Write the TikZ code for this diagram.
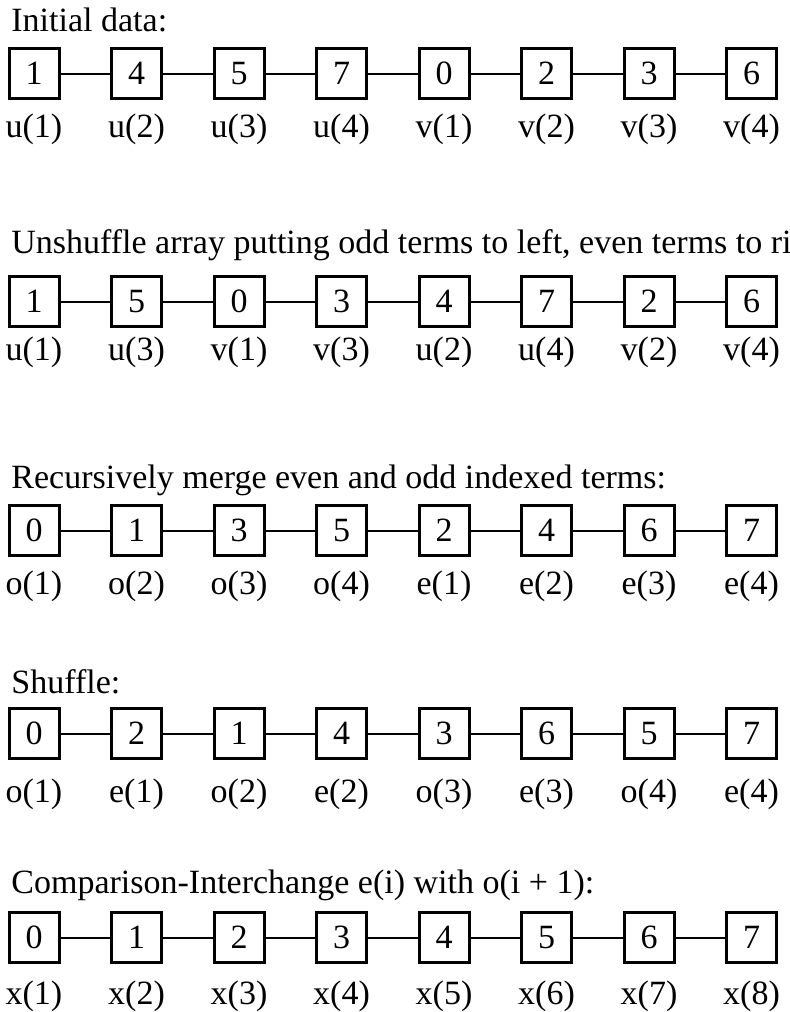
\documentclass[tikz,border=0pt]{standalone}
\usepackage{fontspec}
\setmainfont{Liberation Serif}
\usetikzlibrary{positioning}
\tikzstyle{cell} = [rectangle, draw=black, line width=1.5pt, minimum size=25pt, inner sep=0pt, font=\fontsize{17}{20}\selectfont]
\tikzstyle{idx} = [inner sep=0pt, text height=12pt, text depth=4pt, font=\fontsize{17}{20}\selectfont]
\tikzstyle{heading} = [anchor=base west, inner sep=0pt, font=\fontsize{17}{20}\selectfont]
\tikzstyle{wire} = [line width=1pt]

\begin{document}
\begin{tikzpicture}[x=0.5pt, y=-0.5pt, node distance=24.75pt]
    \useasboundingbox (0,0) rectangle (790,1012);

    % initial data
    \node (t1) [heading] at (11,32) {Initial data:};
    \node (a1) [cell] at (34,73.5) {1};
    \node (a2) [cell, right=of a1] {4};
    \node (a3) [cell, right=of a2] {5};
    \node (a4) [cell, right=of a3] {7};
    \node (a5) [cell, right=of a4] {0};
    \node (a6) [cell, right=of a5] {2};
    \node (a7) [cell, right=of a6] {3};
    \node (a8) [cell, right=of a7] {6};
    \node (la1) [idx, below=6.5pt of a1] {u(1)};
    \node (la2) [idx, below=6.5pt of a2] {u(2)};
    \node (la3) [idx, below=6.5pt of a3] {u(3)};
    \node (la4) [idx, below=6.5pt of a4] {u(4)};
    \node (la5) [idx, below=6.5pt of a5] {v(1)};
    \node (la6) [idx, below=6.5pt of a6] {v(2)};
    \node (la7) [idx, below=6.5pt of a7] {v(3)};
    \node (la8) [idx, below=6.5pt of a8] {v(4)};

    % unshuffle
    \node (t2) [heading] at (11,253) {Unshuffle array putting odd terms to left, even terms to ri};
    \node (b1) [cell] at (34,301.5) {1};
    \node (b2) [cell, right=of b1] {5};
    \node (b3) [cell, right=of b2] {0};
    \node (b4) [cell, right=of b3] {3};
    \node (b5) [cell, right=of b4] {4};
    \node (b6) [cell, right=of b5] {7};
    \node (b7) [cell, right=of b6] {2};
    \node (b8) [cell, right=of b7] {6};
    \node (lb1) [idx, below=4pt of b1] {u(1)};
    \node (lb2) [idx, below=4pt of b2] {u(3)};
    \node (lb3) [idx, below=4pt of b3] {v(1)};
    \node (lb4) [idx, below=4pt of b4] {v(3)};
    \node (lb5) [idx, below=4pt of b5] {u(2)};
    \node (lb6) [idx, below=4pt of b6] {u(4)};
    \node (lb7) [idx, below=4pt of b7] {v(2)};
    \node (lb8) [idx, below=4pt of b8] {v(4)};

    % recursive merge
    \node (t3) [heading] at (11,488) {Recursively merge even and odd indexed terms:};
    \node (c1) [cell] at (34,530.5) {0};
    \node (c2) [cell, right=of c1] {1};
    \node (c3) [cell, right=of c2] {3};
    \node (c4) [cell, right=of c3] {5};
    \node (c5) [cell, right=of c4] {2};
    \node (c6) [cell, right=of c5] {4};
    \node (c7) [cell, right=of c6] {6};
    \node (c8) [cell, right=of c7] {7};
    \node (lc1) [idx, below=6.5pt of c1] {o(1)};
    \node (lc2) [idx, below=6.5pt of c2] {o(2)};
    \node (lc3) [idx, below=6.5pt of c3] {o(3)};
    \node (lc4) [idx, below=6.5pt of c4] {o(4)};
    \node (lc5) [idx, below=6.5pt of c5] {e(1)};
    \node (lc6) [idx, below=6.5pt of c6] {e(2)};
    \node (lc7) [idx, below=6.5pt of c7] {e(3)};
    \node (lc8) [idx, below=6.5pt of c8] {e(4)};

    % shuffle
    \node (t4) [heading] at (11,693) {Shuffle:};
    \node (d1) [cell] at (34,733.5) {0};
    \node (d2) [cell, right=of d1] {2};
    \node (d3) [cell, right=of d2] {1};
    \node (d4) [cell, right=of d3] {4};
    \node (d5) [cell, right=of d4] {3};
    \node (d6) [cell, right=of d5] {6};
    \node (d7) [cell, right=of d6] {5};
    \node (d8) [cell, right=of d7] {7};
    \node (ld1) [idx, below=9pt of d1] {o(1)};
    \node (ld2) [idx, below=9pt of d2] {e(1)};
    \node (ld3) [idx, below=9pt of d3] {o(2)};
    \node (ld4) [idx, below=9pt of d4] {e(2)};
    \node (ld5) [idx, below=9pt of d5] {o(3)};
    \node (ld6) [idx, below=9pt of d6] {e(3)};
    \node (ld7) [idx, below=9pt of d7] {o(4)};
    \node (ld8) [idx, below=9pt of d8] {e(4)};

    % comparison-interchange
    \node (t5) [heading] at (11,893) {Comparison-Interchange e(i) with o(i + 1):};
    \node (e1) [cell] at (34,937.5) {0};
    \node (e2) [cell, right=of e1] {1};
    \node (e3) [cell, right=of e2] {2};
    \node (e4) [cell, right=of e3] {3};
    \node (e5) [cell, right=of e4] {4};
    \node (e6) [cell, right=of e5] {5};
    \node (e7) [cell, right=of e6] {6};
    \node (e8) [cell, right=of e7] {7};
    \node (le1) [idx, below=8pt of e1] {x(1)};
    \node (le2) [idx, below=8pt of e2] {x(2)};
    \node (le3) [idx, below=8pt of e3] {x(3)};
    \node (le4) [idx, below=8pt of e4] {x(4)};
    \node (le5) [idx, below=8pt of e5] {x(5)};
    \node (le6) [idx, below=8pt of e6] {x(6)};
    \node (le7) [idx, below=8pt of e7] {x(7)};
    \node (le8) [idx, below=8pt of e8] {x(8)};

    \draw [wire] (a1) -- (a2) (a2) -- (a3) (a3) -- (a4) (a4) -- (a5) (a5) -- (a6) (a6) -- (a7) (a7) -- (a8);
    \draw [wire] (b1) -- (b2) (b2) -- (b3) (b3) -- (b4) (b4) -- (b5) (b5) -- (b6) (b6) -- (b7) (b7) -- (b8);
    \draw [wire] (c1) -- (c2) (c2) -- (c3) (c3) -- (c4) (c4) -- (c5) (c5) -- (c6) (c6) -- (c7) (c7) -- (c8);
    \draw [wire] (d1) -- (d2) (d2) -- (d3) (d3) -- (d4) (d4) -- (d5) (d5) -- (d6) (d6) -- (d7) (d7) -- (d8);
    \draw [wire] (e1) -- (e2) (e2) -- (e3) (e3) -- (e4) (e4) -- (e5) (e5) -- (e6) (e6) -- (e7) (e7) -- (e8);
\end{tikzpicture}
\end{document}
